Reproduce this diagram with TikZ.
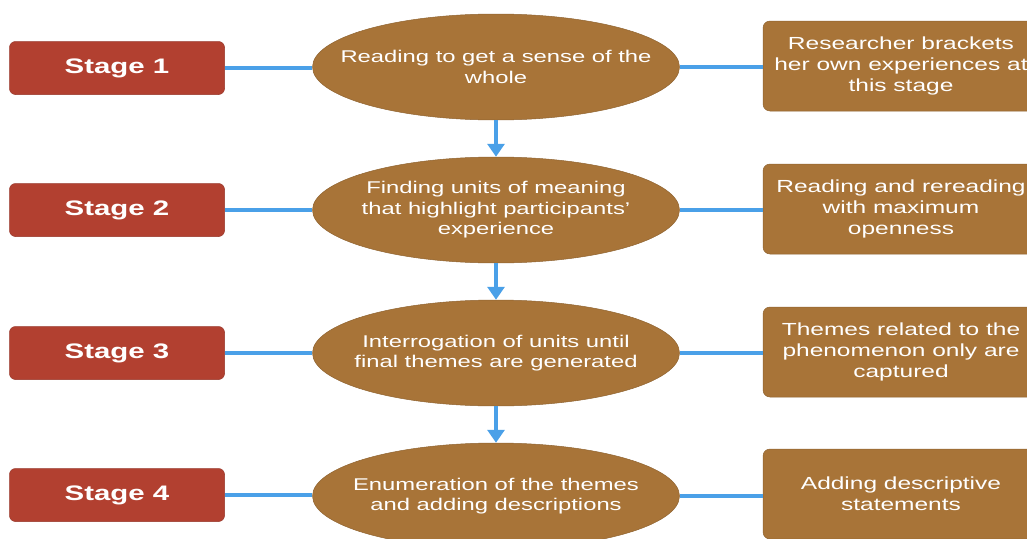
\documentclass[tikz,border=0pt]{standalone}
\usepackage{fontspec}
\setmainfont{Liberation Sans}[FakeStretch=1.4]
\usetikzlibrary{shapes.geometric,arrows.meta}
\definecolor{stagered}{RGB}{178,64,48}
\definecolor{brownfill}{RGB}{168,116,56}
\definecolor{linkblue}{RGB}{74,160,232}
\tikzset{
  stagebox/.style={draw=stagered!85!black, line width=0.5pt, fill=stagered, rounded corners=6pt, minimum width=215pt, minimum height=53pt, text=white, font=\fontsize{21}{24}\selectfont\bfseries},
  ellnode/.style={ellipse, fill=brownfill, draw=brownfill!85!black, line width=0.5pt, minimum width=367pt, minimum height=106pt, inner sep=0pt},
  elltext/.style={text=white, align=center, inner sep=0pt, font=\fontsize{17}{20.5}\selectfont},
  notebox/.style={fill=brownfill, draw=brownfill!85!black, line width=0.5pt, rounded corners=7pt, minimum width=276pt, minimum height=90pt, text=white, align=center, font=\fontsize{17.5}{21}\selectfont},
  link/.style={draw=linkblue, line width=3.2pt},
  flow/.style={draw=linkblue, line width=3.2pt, -{Triangle[length=13pt,width=17pt]}}
}
\begin{document}
\begin{tikzpicture}[x=1pt,y=-1pt]
\useasboundingbox (0,0) rectangle (1027,538);
\clip (0,0) rectangle (1027,538);
% stage boxes
\node[stagebox] (s1) at (117,68) {Stage 1};
\node[stagebox] (s2) at (117,210) {Stage 2};
\node[stagebox] (s3) at (117,353) {Stage 3};
\node[stagebox] (s4) at (117,495) {Stage 4};
% ellipses
\node[ellnode] (e1) at (496,67) {};
\node[ellnode] (e2) at (496,210) {};
\node[ellnode] (e3) at (496,353) {};
\node[ellnode] (e4) at (496,496) {};
\node[elltext] (t1) at (e1.center) {Reading to get a sense of the\\whole};
\node[elltext] (t2) at (e2.center) {Finding units of meaning\\that highlight participants'\\experience};
\node[elltext] (t3) at (e3.center) {Interrogation of units until\\final themes are generated};
\node[elltext] (t4) at (e4.center) {Enumeration of the themes\\and adding descriptions};
% notes
\node[notebox] (n1) at (901,66) {Researcher brackets\\her own experiences at\\this stage};
\node[notebox] (n2) at (901,209) {Reading and rereading\\with maximum\\openness};
\node[notebox] (n3) at (901,352) {Themes related to the\\phenomenon only are\\captured};
\node[notebox] (n4) at (901,494) {Adding descriptive\\statements};
% links
\foreach \i in {1,2,3,4}{
  \draw[link] (s\i.east) -- (s\i.east -| e\i.west);
  \draw[link] (e\i.east) -- (e\i.east -| n\i.west);
}
\draw[flow] (e1.south) -- (e2.north);
\draw[flow] (e2.south) -- (e3.north);
\draw[flow] (e3.south) -- (e4.north);
\end{tikzpicture}
\end{document}
